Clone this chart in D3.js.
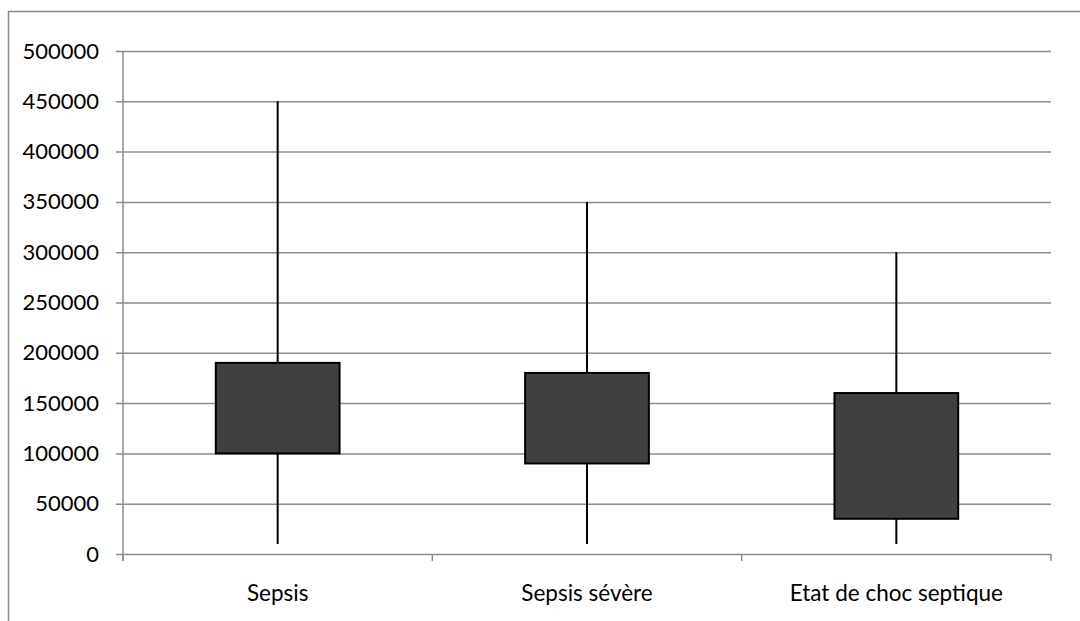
<!DOCTYPE html>
<html>
<head>
<meta charset="utf-8">
<script src="https://cdn.jsdelivr.net/npm/d3@7"></script>
<style>
  html, body { margin: 0; padding: 0; background: #fff; }
  svg { display: block; }
  text { font-family: Lato, "Open Sans", sans-serif; fill: #000; }
</style>
</head>
<body>
<svg id="chart" width="1080" height="621"></svg>
<script>
// Platelet-count style box summary per sepsis stage
const categories = ["Sepsis", "Sepsis sévère", "Etat de choc septique"];
const whiskerLow = [10000, 10000, 10000];
const boxLow = [100000, 90000, 35000];
const boxHigh = [190000, 180000, 160000];
const whiskerHigh = [450000, 350000, 300000];
const yTicks = [0, 50000, 100000, 150000, 200000, 250000, 300000, 350000, 400000, 450000, 500000];

const rows = categories.map((c, i) => ({
  cat: c, lo: whiskerLow[i], q1: boxLow[i], q3: boxHigh[i], hi: whiskerHigh[i]
}));

const svg = d3.select("#chart");
const margin = { left: 123, right: 29, top: 51, bottom: 67 };
const W = 1080, H = 621;

// Outer chart frame
svg.append("rect")
  .attr("x", 8.5).attr("y", 11.5)
  .attr("width", 1200).attr("height", 800)
  .attr("fill", "none").attr("stroke", "#8a8a8a").attr("stroke-width", 1.5);

const x = d3.scaleBand().domain(categories)
  .range([margin.left, W - margin.right]).paddingInner(0).paddingOuter(0);
const y = d3.scaleLinear().domain([0, 500000])
  .range([H - margin.bottom, margin.top]);

// Horizontal gridlines with left tick stubs
const yAxis = d3.axisLeft(y).tickValues(yTicks)
  .tickSize(-(W - margin.right - margin.left)).tickPadding(16)
  .tickFormat(d3.format("d"));
const gy = svg.append("g").attr("transform", `translate(${margin.left},0)`).call(yAxis);
gy.select(".domain").remove();
gy.selectAll(".tick line").attr("stroke", "#8c8c8c").attr("stroke-width", 1.5)
  .attr("x1", -7);
gy.selectAll(".tick text").attr("font-size", 22).attr("x", -24);

// Vertical axis line
svg.append("line")
  .attr("x1", margin.left).attr("x2", margin.left)
  .attr("y1", y(500000)).attr("y2", y(0) + 7)
  .attr("stroke", "#8c8c8c").attr("stroke-width", 1.5);

// Category axis: boundary ticks
const bounds = categories.map(c => x(c)).concat([x.range()[1]]);
svg.append("g").selectAll("line").data(bounds).join("line")
  .attr("x1", d => d).attr("x2", d => d)
  .attr("y1", y(0)).attr("y2", y(0) + 7)
  .attr("stroke", "#8c8c8c").attr("stroke-width", 1.5);

svg.append("g").selectAll("text").data(categories).join("text")
  .attr("x", d => x(d) + x.bandwidth() / 2)
  .attr("y", y(0) + 47)
  .attr("text-anchor", "middle")
  .attr("font-size", 22.5)
  .text(d => d);

// Whiskers and boxes
const g = svg.append("g");
const boxW = x.bandwidth() * 0.4;
g.selectAll("line.whisker").data(rows).join("line")
  .attr("class", "whisker")
  .attr("x1", d => x(d.cat) + x.bandwidth() / 2)
  .attr("x2", d => x(d.cat) + x.bandwidth() / 2)
  .attr("y1", d => y(d.hi)).attr("y2", d => y(d.lo))
  .attr("stroke", "#000").attr("stroke-width", 2);

g.selectAll("rect.box").data(rows).join("rect")
  .attr("class", "box")
  .attr("x", d => x(d.cat) + x.bandwidth() / 2 - boxW / 2)
  .attr("width", boxW)
  .attr("y", d => y(d.q3))
  .attr("height", d => y(d.q1) - y(d.q3))
  .attr("fill", "#404040").attr("stroke", "#000").attr("stroke-width", 2);
</script>
</body>
</html>
